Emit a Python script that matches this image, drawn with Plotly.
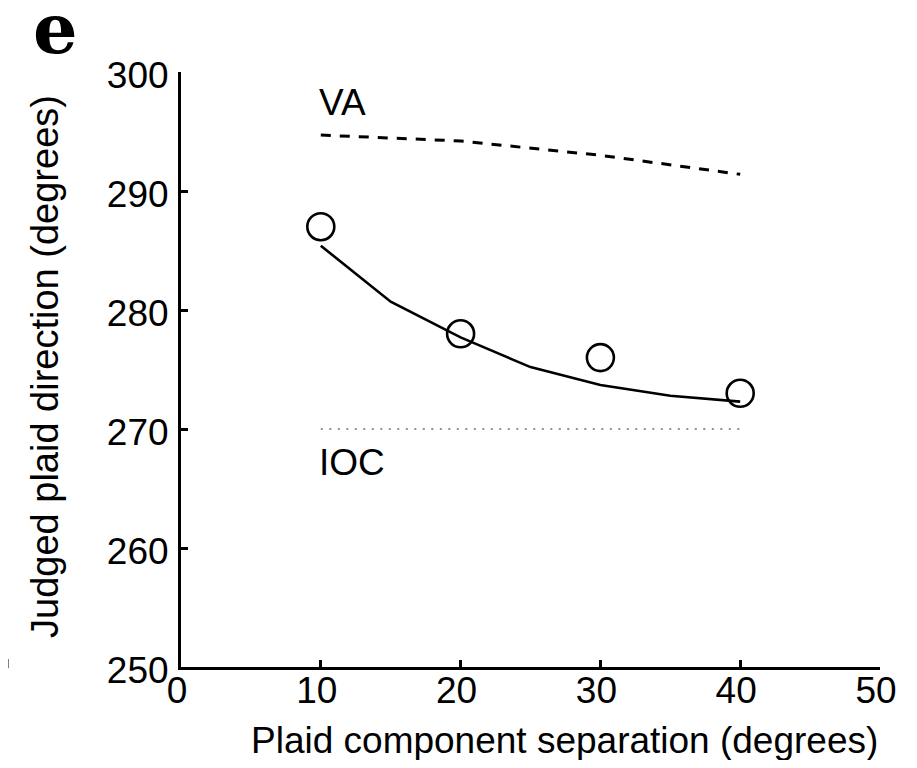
import plotly.graph_objects as go

# Data
sep_x = [10, 20, 30, 40]
judged_y = [287, 278, 276, 273]

fit_x = [10, 15, 20, 25, 30, 35, 40]
fit_y = [285.4, 280.7, 277.7, 275.2, 273.7, 272.8, 272.3]

va_x = [10, 20, 30, 40]
va_y = [294.7, 294.2, 293.0, 291.4]

ioc_x = [10, 40]
ioc_y = [270, 270]

x_ticks = [0, 10, 20, 30, 40, 50]
y_ticks = [250, 260, 270, 280, 290, 300]

FONT = "Liberation Sans, Arial, sans-serif"

# plot area in screen pixels (page body has an 8px margin)
PL, PR, PT, PB = 181, 885, 72, 667


def px(xs):
    return (xs - PL) / (PR - PL)


def py(ys):
    return (PB - ys) / (PB - PT)


fig = go.Figure()
fig.add_trace(go.Scatter(x=ioc_x, y=ioc_y, mode="lines",
                         line=dict(color="#6e6e6e", width=1.6, dash="2px,6.5px"),
                         showlegend=False, hoverinfo="skip"))
fig.add_trace(go.Scatter(x=va_x, y=va_y, mode="lines",
                         line=dict(color="black", width=3, dash="10px,9px"),
                         showlegend=False, hoverinfo="skip"))
fig.add_trace(go.Scatter(x=fit_x, y=fit_y, mode="lines",
                         line=dict(color="black", width=2.6),
                         showlegend=False, hoverinfo="skip"))
fig.add_trace(go.Scatter(x=sep_x, y=judged_y, mode="markers",
                         marker=dict(symbol="circle-open", size=27, color="black",
                                     line=dict(width=2.6, color="black")),
                         showlegend=False, cliponaxis=False))

axis_common = dict(showline=True, linecolor="black", linewidth=3,
                   ticks="inside", ticklen=7, tickwidth=3, tickcolor="black",
                   showgrid=False, zeroline=False,
                   tickfont=dict(family=FONT, size=37, color="black"))

fig.update_xaxes(range=[0, 50], tickvals=x_ticks, ticklabelstandoff=-11,
                 ticklabelshift=-4, **axis_common)
fig.update_yaxes(range=[250, 300], tickvals=y_ticks, ticklabelstandoff=2,
                 ticklabelshift=3, **axis_common)

annotations = [
    dict(text="VA", x=9.7, y=297.4, xref="x", yref="y", xanchor="left", yanchor="middle",
         showarrow=False, font=dict(family=FONT, size=37, color="black")),
    dict(text="IOC", x=9.7, y=267.2, xref="x", yref="y", xanchor="left", yanchor="middle",
         showarrow=False, font=dict(family=FONT, size=37, color="black")),
    dict(text="Plaid component separation (degrees)", x=px(567), y=py(740),
         xref="paper", yref="paper", xanchor="center", yanchor="middle", showarrow=False,
         font=dict(family=FONT, size=37, color="black")),
    dict(text="Judged plaid direction (degrees)", x=px(44), y=py(366),
         xref="paper", yref="paper", xanchor="center", yanchor="middle", showarrow=False,
         textangle=-90, font=dict(family=FONT, size=38, color="black")),
    dict(text="<b>e</b>", x=px(55), y=py(28),
         xref="paper", yref="paper", xanchor="center", yanchor="middle", showarrow=False,
         font=dict(family="DejaVu Serif, serif", size=70, color="black")),
]

shapes = [
    dict(type="path", xref="paper", yref="paper",
         path="M {} {} L {} {} L {} {}".format(px(0), py(667), px(6), py(667), px(6), py(659)),
         line=dict(color="black", width=2.5)),
]

fig.update_layout(width=901, height=752,
                  margin=dict(l=PL - 8, r=8 + 901 - PR, t=PT - 8, b=8 + 752 - PB),
                  plot_bgcolor="white", paper_bgcolor="white",
                  annotations=annotations, shapes=shapes, showlegend=False)

fig.write_html("out.html")
